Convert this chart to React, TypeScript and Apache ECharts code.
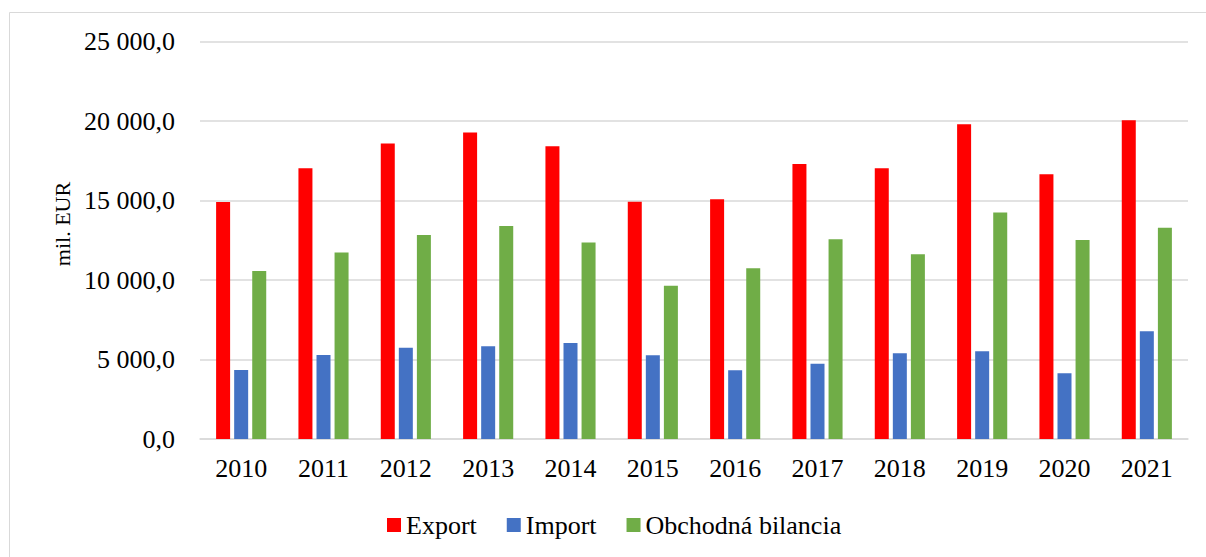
import React, { useEffect, useRef } from "react";
import * as echarts from "echarts";

const years = ["2010", "2011", "2012", "2013", "2014", "2015", "2016", "2017", "2018", "2019", "2020", "2021"];
const exportValues = [14910, 17030, 18590, 19270, 18410, 14920, 15080, 17300, 17030, 19790, 16650, 20040];
const importValues = [4340, 5280, 5740, 5830, 6030, 5270, 4330, 4730, 5400, 5520, 4140, 6780];
const balanceValues = [10560, 11730, 12830, 13400, 12360, 9640, 10740, 12570, 11620, 14250, 12510, 13280];
const seriesNames = ["Export", "Import", "Obchodná bilancia"];
const yAxisTitle = "mil. EUR";

const FONT = "'Liberation Serif', 'Times New Roman', serif";

function fmt(v: number): string {
  const s = v.toFixed(1);
  const [i, d] = s.split(".");
  return i.replace(/\B(?=(\d{3})+(?!\d))/g, " ") + "," + d;
}

export default function App() {
  const ref = useRef<HTMLDivElement>(null);
  useEffect(() => {
    if (!ref.current) return;
    const chart = echarts.init(ref.current, null, { renderer: "svg" });
    const barCommon = { type: "bar", barWidth: 14, barGap: "29%" };
    chart.setOption({
      animation: false,
      backgroundColor: "#fff",
      textStyle: { fontFamily: FONT, color: "#000" },
      grid: { left: 200, right: 18, top: 41.5, bottom: 118, containLabel: false },
      legend: {
        left: 387,
        top: 512,
        padding: 0,
        itemWidth: 14,
        itemHeight: 14,
        itemGap: 30,
        icon: "rect",
        textStyle: { fontFamily: FONT, fontSize: 26, color: "#000" },
        data: seriesNames,
      },
      xAxis: {
        type: "category",
        data: years,
        axisLine: { show: true, lineStyle: { color: "#d9d9d9", width: 1.5 } },
        axisTick: { show: false },
        axisLabel: { fontFamily: FONT, fontSize: 26, color: "#000", margin: 16 },
      },
      yAxis: {
        type: "value",
        min: 0,
        max: 25000,
        interval: 5000,
        axisLine: { show: false },
        axisTick: { show: false },
        splitLine: { lineStyle: { color: "#d9d9d9", width: 1.5 } },
        axisLabel: { fontFamily: FONT, fontSize: 26, color: "#000", margin: 25, formatter: (v: number) => fmt(v) },
      },
      graphic: [
        {
          type: "rect",
          shape: { x: 9.5, y: 12.5, width: 1220, height: 570 },
          style: { fill: "none", stroke: "#d9d9d9", lineWidth: 1 },
          silent: true,
        },
        {
          type: "text",
          x: 62,
          y: 224,
          rotation: Math.PI / 2,
          style: {
            text: yAxisTitle,
            fontFamily: FONT,
            fontSize: 22,
            fill: "#000",
            align: "center",
            verticalAlign: "middle",
          },
        },
      ],
      series: [
        { ...barCommon, name: seriesNames[0], data: exportValues, itemStyle: { color: "#FF0000" } },
        { ...barCommon, name: seriesNames[1], data: importValues, itemStyle: { color: "#4472C4" } },
        { ...barCommon, name: seriesNames[2], data: balanceValues, itemStyle: { color: "#70AD47" } },
      ],
    });
    return () => chart.dispose();
  }, []);
  return (
    <div
      ref={ref}
      style={{ position: "absolute", left: 0, top: 0, width: 1206, height: 557 }}
    />
  );
}
